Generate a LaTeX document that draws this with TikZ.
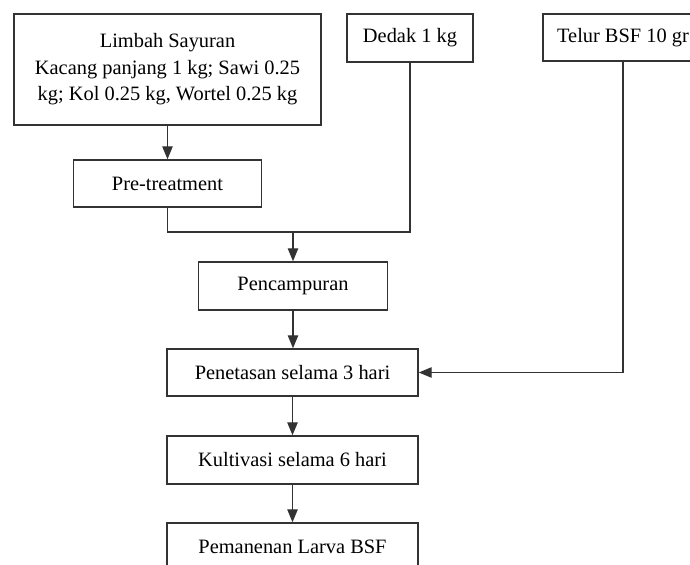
\documentclass[tikz,border=0pt]{standalone}
\usepackage{fontspec}
\setmainfont{Liberation Serif}
\usetikzlibrary{arrows.meta,calc}
\definecolor{linegray}{HTML}{333333}
\tikzset{
  box/.style={draw=linegray, line width=0.7pt, fill=white, rectangle, inner sep=0pt, align=center,
    font=\fontsize{10.2}{13.25}\selectfont, text=black},
  conn/.style={draw=linegray, line width=0.7pt},
  arr/.style={conn, -{Triangle[length=6.5pt,width=5.2pt]}}
}
\begin{document}
\begin{tikzpicture}[x=0.5pt,y=-0.5pt]
\useasboundingbox (0,0) rectangle (690,565);
\clip (0,0) rectangle (690,565);
\node[box, minimum width=153.5pt, minimum height=55.5pt] (limbah) at (167.5,69.5)
  {Limbah Sayuran\\Kacang panjang 1 kg; Sawi 0.25\\kg; Kol 0.25 kg, Wortel 0.25 kg};
\node[box, minimum width=94pt, minimum height=23.5pt] (pre) at (167.5,183.5) {Pre-treatment};
\node[box, minimum width=63pt, minimum height=24pt] (dedak) at (410,38) {Dedak 1 kg};
\node[box, minimum width=80pt, minimum height=23.5pt] (telur) at (623,37.5) {Telur BSF 10 gr};
\node[box, minimum width=94.5pt, minimum height=24pt] (campur) at (293,286) {Pencampuran};
\node[box, minimum width=125.5pt, minimum height=23.5pt] (tetas) at (292.5,372.5) {Penetasan selama 3 hari};
\node[box, minimum width=125.5pt, minimum height=24pt] (kultur) at (292.5,460) {Kultivasi selama 6 hari};
\node[box, minimum width=125.5pt, minimum height=24pt] (panen) at (292.5,547) {Pemanenan Larva BSF};
\coordinate (j) at (293,232);
\coordinate (jd) at (410,232);
\draw[arr] (limbah.south) -- (pre.north);
\draw[conn] (pre.south) |- (jd) -- (dedak.south);
\draw[arr] (j) -- (campur.north);
\draw[arr] (campur.south) -- (campur.south |- tetas.north);
\draw[arr] (telur.south) |- (tetas.east);
\draw[arr] (tetas.south) -- (tetas.south |- kultur.north);
\draw[arr] (kultur.south) -- (kultur.south |- panen.north);
\end{tikzpicture}
\end{document}
